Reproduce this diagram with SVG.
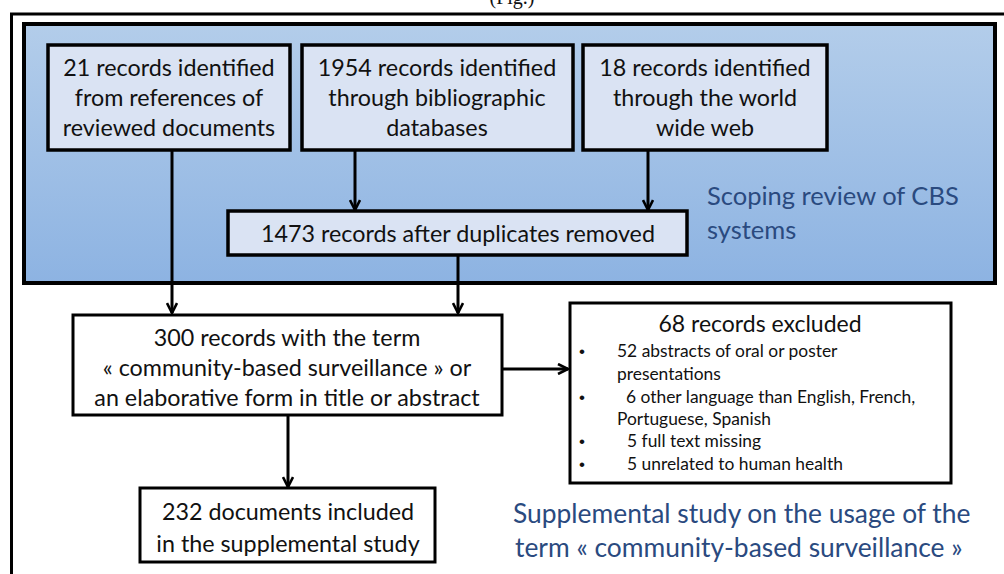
<svg xmlns="http://www.w3.org/2000/svg" width="1004" height="574" viewBox="0 0 1004 574">
<defs>
<linearGradient id="blueGrad" x1="0" y1="0" x2="0" y2="1">
<stop offset="0" stop-color="#B3CDEA"/>
<stop offset="1" stop-color="#8DB3E2"/>
</linearGradient>
<marker id="arr" viewBox="0 0 12 12" refX="11" refY="6" markerWidth="12" markerHeight="12" markerUnits="userSpaceOnUse" orient="auto">
<path d="M1,1 L11,6 L1,11" fill="none" stroke="#000" stroke-width="2.6"/>
</marker>
<style>
.t{font-family:Lato,"Liberation Sans",sans-serif;font-size:23.3px;fill:#111;text-anchor:middle}
.h{font-family:Lato,"Liberation Sans",sans-serif;font-size:23px;fill:#111;text-anchor:middle}
.s{font-family:Lato,"Liberation Sans",sans-serif;font-size:17.4px;fill:#111}
.d{font-family:"Liberation Sans",sans-serif;font-size:17px;fill:#111}
.b{font-family:Lato,"Liberation Sans",sans-serif;font-size:26.4px;fill:#2A4A7F}
.lb{fill:#DAE3F3;stroke:#000;stroke-width:3.5}
.wb{fill:#fff;stroke:#000;stroke-width:3}
.c{fill:none;stroke:#000;stroke-width:3;marker-end:url(#arr)}
</style>
</defs>
<rect x="0" y="0" width="1004" height="574" fill="#fff"/>
<text x="512" y="4" style="font-family:'Liberation Serif',serif;font-size:20px;text-anchor:middle;fill:#111">(Fig.)</text>
<rect x="11.5" y="14" width="1010" height="600" fill="none" stroke="#000" stroke-width="3"/>
<g id="scoping">
<rect x="24" y="24" width="971" height="259" fill="url(#blueGrad)" stroke="#000" stroke-width="4"/>
<text class="b" style="font-size:25.5px" x="707" y="205">Scoping review of CBS</text>
<text class="b" style="font-size:25.5px" x="707" y="239">systems</text>
</g>
<g id="connectors">
<line class="c" x1="172" y1="150" x2="172" y2="313"/>
<line class="c" x1="355" y1="150" x2="355" y2="210"/>
<line class="c" x1="648" y1="150" x2="648" y2="210"/>
<line class="c" x1="458" y1="255" x2="458" y2="313"/>
<line class="c" x1="502" y1="369" x2="568" y2="369"/>
<line class="c" x1="288" y1="415" x2="288" y2="487"/>
</g>
<g id="n21">
<rect class="lb" x="48" y="45" width="242" height="105"/>
<text class="t" x="169" y="76">21 records identified</text>
<text class="t" x="169" y="106">from references of</text>
<text class="t" x="169" y="136">reviewed documents</text>
</g>
<g id="n1954">
<rect class="lb" x="302" y="45" width="271" height="105"/>
<text class="t" x="437" y="76">1954 records identified</text>
<text class="t" x="437" y="106">through bibliographic</text>
<text class="t" x="437" y="136">databases</text>
</g>
<g id="n18">
<rect class="lb" x="583" y="45" width="244" height="105"/>
<text class="t" x="705" y="76">18 records identified</text>
<text class="t" x="705" y="106">through the world</text>
<text class="t" x="705" y="136">wide web</text>
</g>
<g id="n1473">
<rect class="lb" x="228" y="211" width="459" height="44"/>
<text class="t" x="458" y="242">1473 records after duplicates removed</text>
</g>
<g id="n300">
<rect class="wb" x="73" y="315" width="429" height="100"/>
<text class="t" x="287" y="346">300 records with the term</text>
<text class="t" x="287" y="376">« community-based surveillance » or</text>
<text class="t" x="287" y="406">an elaborative form in title or abstract</text>
</g>
<g id="n68">
<rect class="wb" x="570" y="303" width="381" height="180"/>
<text class="h" x="760" y="332">68 records excluded</text>
<text class="d" x="579" y="357">•</text>
<text class="s" x="617" y="357">52 abstracts of oral or poster</text>
<text class="s" x="617" y="380">presentations</text>
<text class="d" x="579" y="403">•</text>
<text class="s" x="626" y="403">6 other language than English, French,</text>
<text class="s" x="617" y="425">Portuguese, Spanish</text>
<text class="d" x="579" y="447">•</text>
<text class="s" x="627" y="447">5 full text missing</text>
<text class="d" x="579" y="470">•</text>
<text class="s" x="627" y="470">5 unrelated to human health</text>
</g>
<g id="n232">
<rect class="wb" x="140" y="488" width="295" height="74"/>
<text class="t" x="288" y="520">232 documents included</text>
<text class="t" x="288" y="552">in the supplemental study</text>
</g>
<g id="supplemental">
<text class="b" x="513" y="523">Supplemental study on the usage of the</text>
<text class="b" x="515" y="557">term « community-based surveillance »</text>
</g>
</svg>
